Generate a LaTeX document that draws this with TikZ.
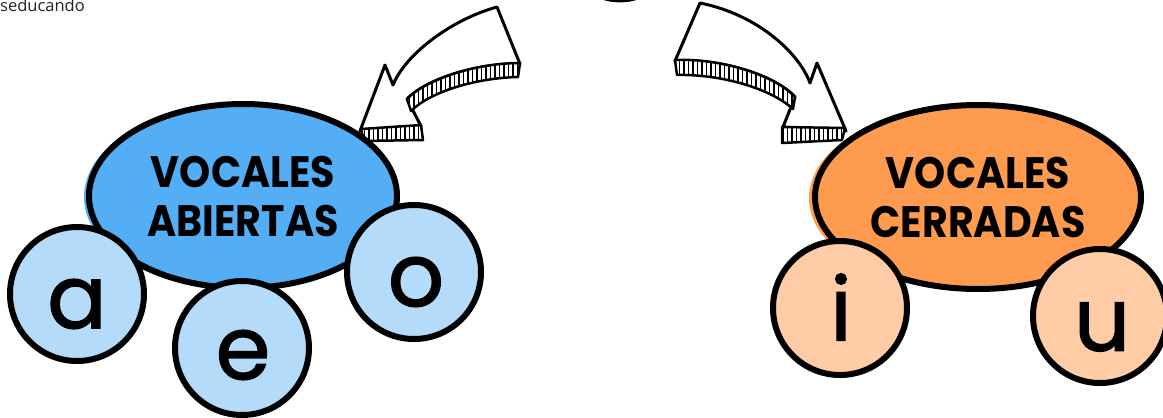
\documentclass[tikz,border=0pt]{standalone}
\usepackage{fontspec}
\setmainfont{Poppins}
\newfontfamily\smallfont{Open Sans}
\newfontfamily\letterfont[FakeBold=1.5]{Poppins}
\usetikzlibrary{shapes.geometric,patterns.meta}
\definecolor{bluefill}{HTML}{53AEF6}
\definecolor{lightblue}{HTML}{B4DCFA}
\definecolor{orangefill}{HTML}{FF9B4F}
\definecolor{peach}{HTML}{FFCCA6}
\definecolor{txtgray}{HTML}{222222}
\newcommand{\narrow}[1]{\scalebox{0.9}[1]{#1}}
\tikzset{
  bigell/.style={ellipse, draw=black, line width=6pt, inner sep=0pt, align=center,
    font=\bfseries\fontsize{44}{49}\selectfont},
  vowel/.style={circle, draw=black, line width=6pt, minimum size=134pt, inner sep=0pt},
  letter/.style={font=\letterfont\fontsize{88}{88}\selectfont, inner sep=0pt},
  arrowbody/.style={fill=white, draw=black, line width=3pt, line join=round},
  band/.style={fill=white, draw=black, line width=2.5pt, line join=round,
    postaction={pattern={Lines[angle=90, distance=4.5pt, line width=1.8pt]}, pattern color=black}},
}
\begin{document}
\begin{tikzpicture}[x=1pt,y=-1pt]
\useasboundingbox (0,0) rectangle (1163,418);
\fill[white] (0,0) rectangle (1163,418);

% small text
\node[anchor=north west, inner sep=0pt, font=\smallfont\fontsize{16.5}{16.5}\selectfont, text=txtgray] (seducando) at (0,-1) {seducando};

% cut-off shape at top
\draw[line width=2.2pt] (604,-1) .. controls (613,2) and (627,2) .. (636,-1);

% left arrow
\path[arrowbody] (497,7) -- (520,64) .. controls (475,63) and (425,80) .. (407,99)
  -- (421,126) -- (360,131) -- (385,65) -- (393,85)
  .. controls (405,55) and (450,20) .. (497,7) -- cycle;
\path[band] (520,63) .. controls (475,63) and (425,80) .. (407,99) -- (411,111)
  .. controls (430,92) and (475,78) .. (518,77) -- cycle;
\path[band] (361,129) -- (421,125) -- (423,140) -- (364,141) -- cycle;

% right arrow
\path[arrowbody] (700,3) -- (675,61) .. controls (720,58) and (775,75) .. (795,97)
  -- (783,127) -- (846,131) -- (817,63) -- (810,83)
  .. controls (800,55) and (760,15) .. (700,3) -- cycle;
\path[band] (675,60) .. controls (720,58) and (775,75) .. (795,97) -- (793,109)
  .. controls (770,88) and (720,74) .. (677,75) -- cycle;
\path[band] (782,127) -- (845,128) -- (842,140) -- (782,143) -- cycle;

% blue group
\fill[bluefill] (240,197) ellipse [x radius=156pt, y radius=93pt];
\node[bigell, minimum width=308pt, minimum height=184pt] (abiertas) at (243,196) {\narrow{VOCALES}\\\narrow{ABIERTAS}};
\node[vowel, fill=lightblue] (ca) at (77,294) {};
\node[vowel, fill=lightblue] (ce) at (242,348) {};
\node[vowel, fill=lightblue] (co) at (414,272) {};
\node[letter] (la) at (77,304) {a};
\node[letter] (le) at (243,355) {e};
\node[letter] (lo) at (416,282) {o};

% orange group
\fill[orangefill] (974,198) ellipse [x radius=165pt, y radius=93pt];
\node[bigell, minimum width=326pt, minimum height=184pt] (cerradas) at (978,197) {\narrow{VOCALES}\\\narrow{CERRADAS}};
\node[vowel, fill=peach] (ci) at (840,308) {};
\node[vowel, fill=peach] (cu) at (1100,316) {};
\node[letter] (li) at (841,307) {i};
\node[letter] (lu) at (1102,327) {u};
\end{tikzpicture}
\end{document}
